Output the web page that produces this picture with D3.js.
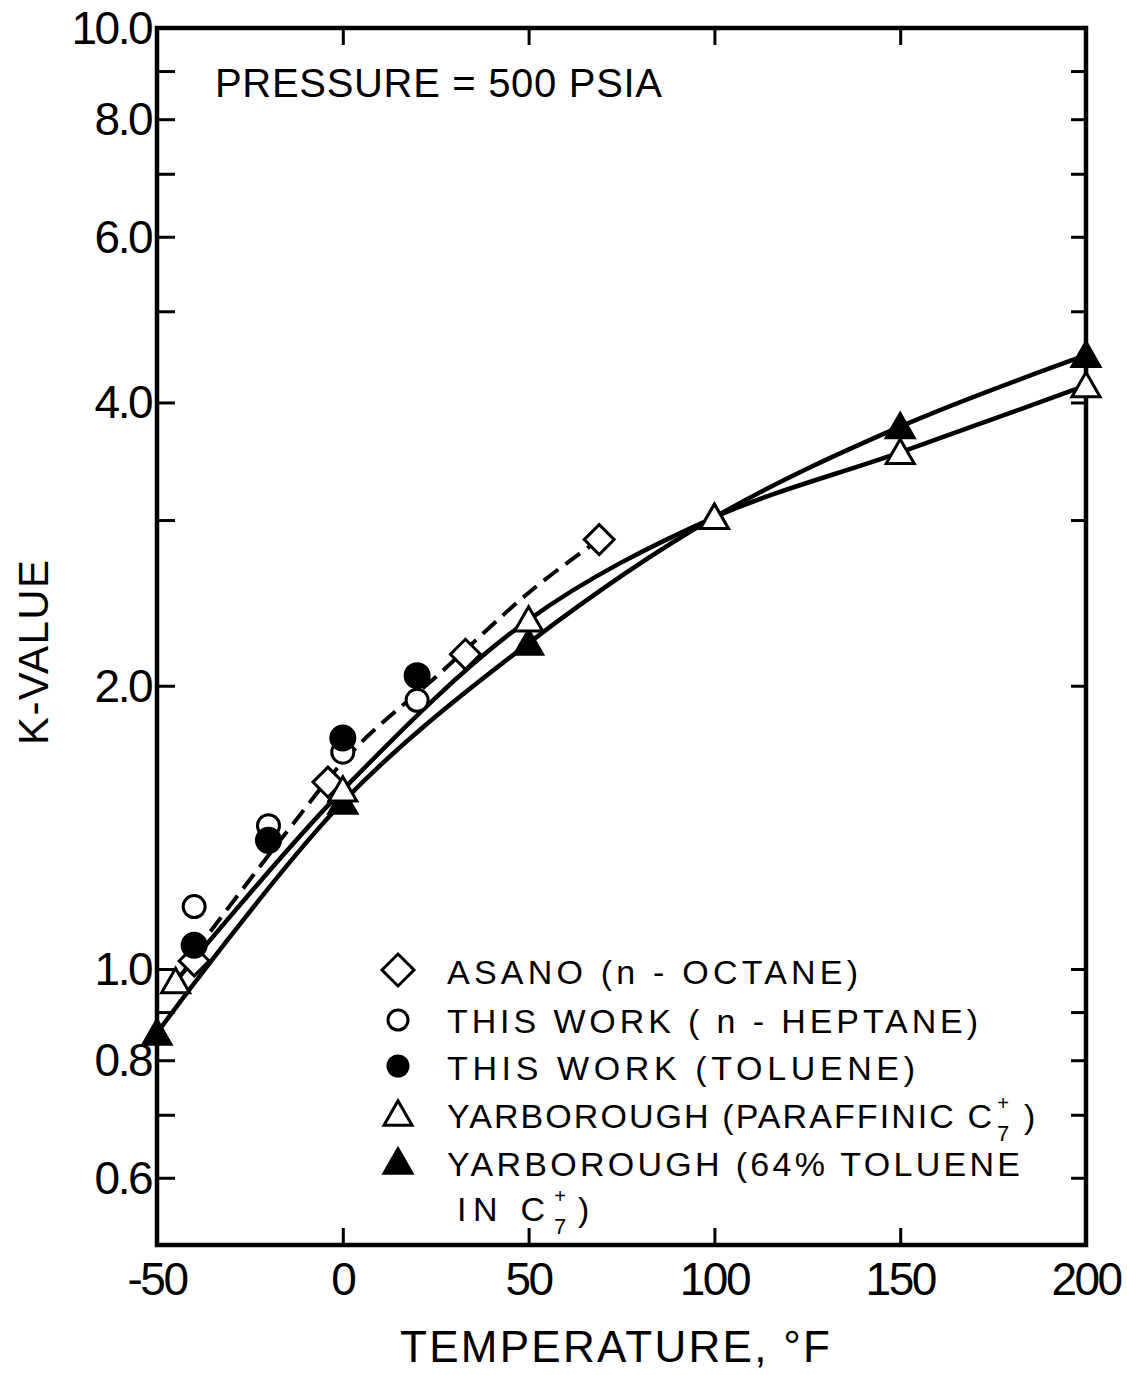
<!DOCTYPE html>
<html>
<head>
<meta charset="utf-8">
<script src="https://cdn.jsdelivr.net/npm/d3@7"></script>
<style>
  body { margin: 0; background: #fff; }
  svg text { font-family: "Liberation Sans", "DejaVu Sans", sans-serif; fill: #000; }
</style>
</head>
<body>
<svg id="chart" width="1127" height="1375"></svg>
<script>
// K-values of the measured and literature data sets, [temperature °F, K]
const asanoOctane    = [[-40, 1.02], [-4, 1.58], [33, 2.16], [69, 2.86]];
const heptaneWork    = [[-40, 1.165], [-20, 1.42], [0, 1.70], [20, 1.93]];
const tolueneWork    = [[-40, 1.06], [-20, 1.37], [0, 1.76], [20, 2.05]];
const yarbParaffinic = [[-45, 0.97], [0, 1.55], [50, 2.35], [100, 3.02], [150, 3.54], [200, 4.17]];
const yarbToluene    = [[-50, 0.855], [0, 1.505], [50, 2.22], [100, 3.02], [150, 3.77], [200, 4.49]];

// Dashed correlation through this work's points
const dashedCurve = [[-40, 1.04], [-15, 1.40], [3, 1.71], [26, 2.06], [51, 2.53], [69, 2.86]];

// Axis ticks and labels
const xTicks = [-50, 0, 50, 100, 150, 200];
const xInnerTicks = [0, 50, 100, 150];
const yMinorTicks = [0.6, 0.7, 0.8, 0.9, 1, 2, 3, 4, 5, 6, 7, 8, 9];
const yLabelTicks = [10, 8, 6, 4, 2, 1, 0.8, 0.6];
const yLabelText = ["10.0", "8.0", "6.0", "4.0", "2.0", "1.0", "0.8", "0.6"];

const legendLabels = [
  "ASANO (n - OCTANE)",
  "THIS WORK ( n - HEPTANE)",
  "THIS WORK (TOLUENE)",
  "YARBOROUGH (PARAFFINIC C",
  "YARBOROUGH (64% TOLUENE",
  "IN C"
];

const svg = d3.select("#chart");
const ink = "#000";

const x = d3.scaleLinear().domain([-50, 200]).range([157, 1086]);
const y = d3.scaleLog().domain([0.509, 10]).range([1245, 28]);

const [x0, x1] = x.range();
const [yb, yt] = y.range();

// Inner ticks on all four sides
const gAxes = svg.append("g");
gAxes.append("g").attr("transform", `translate(${x0},0)`)
  .call(d3.axisLeft(y).tickValues(yMinorTicks).tickSize(-18).tickFormat(""));
gAxes.append("g").attr("transform", `translate(${x1},0)`)
  .call(d3.axisRight(y).tickValues(yMinorTicks).tickSize(-15).tickFormat(""));
gAxes.append("g").attr("transform", `translate(0,${yb})`)
  .call(d3.axisBottom(x).tickValues(xInnerTicks).tickSize(-17).tickFormat(""));
gAxes.append("g").attr("transform", `translate(0,${yt})`)
  .call(d3.axisTop(x).tickValues(xInnerTicks).tickSize(-17).tickFormat(""));
gAxes.selectAll(".domain").remove();
gAxes.selectAll(".tick line").attr("stroke", ink).attr("stroke-width", 3);

// Frame
svg.append("rect")
  .attr("x", x0).attr("y", yt)
  .attr("width", x1 - x0).attr("height", yb - yt)
  .attr("fill", "none").attr("stroke", ink).attr("stroke-width", 4.5);

// Tick labels
svg.append("g").selectAll("text").data(yLabelTicks).join("text")
  .attr("x", x0 - 6)
  .attr("y", d => y(d) + 16)
  .attr("text-anchor", "end")
  .attr("font-size", 46)
  .attr("letter-spacing", -2.5)
  .text((d, i) => yLabelText[i]);

svg.append("g").selectAll("text").data(xTicks).join("text")
  .attr("x", d => x(d))
  .attr("y", 1295)
  .attr("text-anchor", "middle")
  .attr("font-size", 46)
  .attr("letter-spacing", -2.5)
  .text(d => d);

// Axis titles
svg.append("text")
  .attr("x", 400).attr("y", 1362)
  .attr("font-size", 44)
  .attr("textLength", 430).attr("lengthAdjust", "spacing")
  .text("TEMPERATURE, °F");

svg.append("text")
  .attr("transform", "translate(48,745) rotate(-90)")
  .attr("font-size", 42)
  .attr("textLength", 185).attr("lengthAdjust", "spacing")
  .text("K-VALUE");

svg.append("text")
  .attr("x", 215).attr("y", 97)
  .attr("font-size", 40)
  .attr("textLength", 447).attr("lengthAdjust", "spacing")
  .text("PRESSURE = 500 PSIA");

// Curves
const line = d3.line()
  .x(d => x(d[0]))
  .y(d => y(d[1]))
  .curve(d3.curveCatmullRom.alpha(0.5));

svg.append("path").datum(dashedCurve)
  .attr("d", line).attr("fill", "none")
  .attr("stroke", ink).attr("stroke-width", 4)
  .attr("stroke-dasharray", "18,9");
svg.append("path").datum(yarbParaffinic)
  .attr("d", line).attr("fill", "none")
  .attr("stroke", ink).attr("stroke-width", 4.5);
svg.append("path").datum(yarbToluene)
  .attr("d", line).attr("fill", "none")
  .attr("stroke", ink).attr("stroke-width", 4.5);

// Marker shapes
const triPath = s => `M0,${-s * 0.47}L${s / 2},${s * 0.4}L${-s / 2},${s * 0.4}Z`;
const diaPath = r => `M0,${-r}L${r},0L0,${r}L${-r},0Z`;

function drawMarkers(data, kind, filled, size) {
  const g = svg.append("g");
  const sel = g.selectAll("path").data(data).join("path")
    .attr("transform", d => `translate(${x(d[0])},${y(d[1])})`)
    .attr("fill", filled ? ink : "#fff")
    .attr("stroke", ink)
    .attr("stroke-width", 3);
  if (kind === "circle") sel.attr("d", d3.symbol(d3.symbolCircle, Math.PI * size * size)());
  if (kind === "tri") sel.attr("d", triPath(size));
  if (kind === "dia") sel.attr("d", diaPath(size));
}

drawMarkers(asanoOctane, "dia", false, 15);
drawMarkers(heptaneWork, "circle", false, 11);
drawMarkers(tolueneWork, "circle", true, 12);
drawMarkers(yarbToluene, "tri", true, 28);
drawMarkers(yarbParaffinic, "tri", false, 28);

// Legend
const legendX = 447;
const legendBase = [984, 1033, 1080, 1128, 1176, 1221];
const legendEnds = [858, 978, 915, 992, 1020, 545];
const legendMarkX = 398;

const lg = svg.append("g");
lg.selectAll("text").data(legendLabels).join("text")
  .attr("x", (d, i) => i === 5 ? 457 : legendX)
  .attr("y", (d, i) => legendBase[i])
  .attr("font-size", 34)
  .attr("textLength", (d, i) => legendEnds[i] - (i === 5 ? 457 : legendX))
  .attr("lengthAdjust", "spacing")
  .text(d => d);

// C7+ notation after the two Yarborough labels: "+" stacked over "7"
[[3, 1003, 1024], [5, 560, 578]].forEach(([row, cx, px]) => {
  const b = legendBase[row];
  lg.append("text").attr("x", cx).attr("y", b - 18).attr("text-anchor", "middle")
    .attr("font-size", 20).text("+");
  lg.append("text").attr("x", cx).attr("y", b + 13).attr("text-anchor", "middle")
    .attr("font-size", 22).text("7");
  lg.append("text").attr("x", px).attr("y", b).attr("font-size", 34).text(")");
});

const markerRowY = [970, 1020, 1066, 1114, 1162];
lg.append("path").attr("transform", `translate(${legendMarkX},${markerRowY[0]})`)
  .attr("d", diaPath(16)).attr("fill", "#fff").attr("stroke", ink).attr("stroke-width", 3);
lg.append("circle").attr("cx", legendMarkX).attr("cy", markerRowY[1]).attr("r", 10)
  .attr("fill", "#fff").attr("stroke", ink).attr("stroke-width", 3);
lg.append("circle").attr("cx", legendMarkX).attr("cy", markerRowY[2]).attr("r", 11.5)
  .attr("fill", ink);
lg.append("path").attr("transform", `translate(${legendMarkX},${markerRowY[3]})`)
  .attr("d", triPath(28)).attr("fill", "#fff").attr("stroke", ink).attr("stroke-width", 3);
lg.append("path").attr("transform", `translate(${legendMarkX},${markerRowY[4]})`)
  .attr("d", triPath(28)).attr("fill", ink).attr("stroke", ink).attr("stroke-width", 3);
</script>
</body>
</html>
